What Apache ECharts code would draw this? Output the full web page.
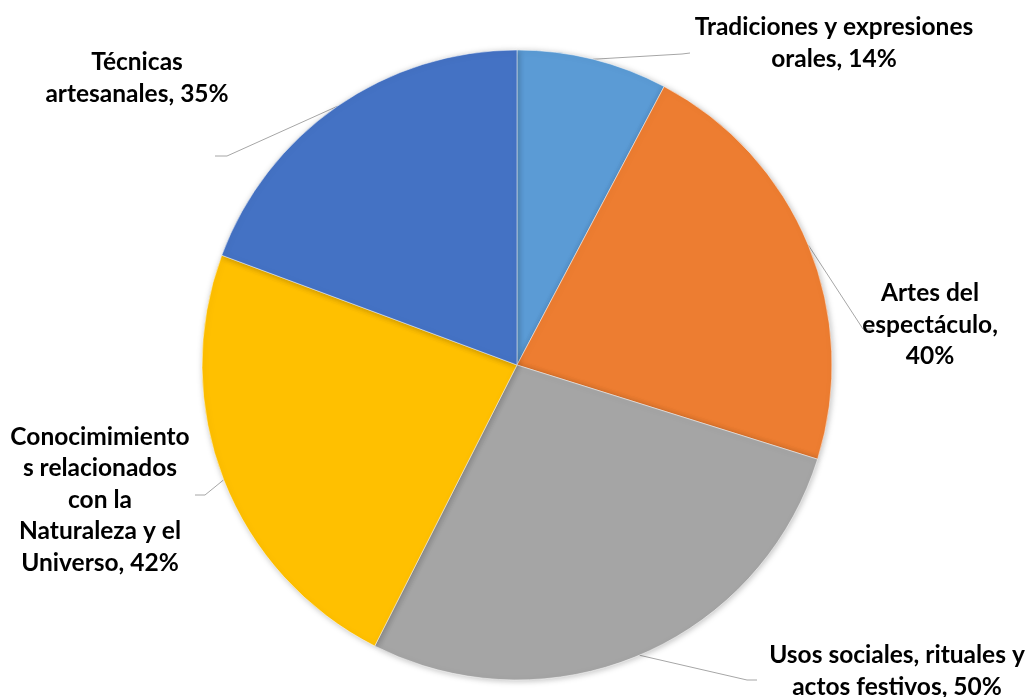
<!DOCTYPE html>
<html>
<head>
<meta charset="utf-8">
<script src="https://cdn.jsdelivr.net/npm/echarts@6/dist/echarts.min.js"></script>
<style>html,body{margin:0;padding:0;background:#fff}#c{width:1033px;height:697px}</style>
</head>
<body>
<div id="c"></div>
<script>
const categories = [
  "Tradiciones y expresiones orales",
  "Artes del espectáculo",
  "Usos sociales, rituales y actos festivos",
  "Conocimimientos relacionados con la Naturaleza y el Universo",
  "Técnicas artesanales"
];
const labelLines = [
  "Tradiciones y expresiones\norales, {v}%",
  "Artes del\nespectáculo,\n{v}%",
  "Usos sociales, rituales y\nactos festivos, {v}%",
  "Conocimimiento\ns relacionados\ncon la\nNaturaleza y el\nUniverso, {v}%",
  "Técnicas\nartesanales, {v}%"
];
const values = [14, 40, 50, 42, 35];
const colors = ["#5B9BD5", "#ED7D31", "#A5A5A5", "#FFC000", "#4472C4"];

// label anchor (center of text block) and leader line end points
const labelPos = [
  {x: 834, y: 43, line: [[682, 54], [690, 53]]},
  {x: 930, y: 325, line: [[863, 329], [873, 329]]},
  {x: 897, y: 671, line: [[747, 680], [757, 680]]},
  {x: 100, y: 500, line: [[205, 495], [195, 495]]},
  {x: 137, y: 78, line: [[227, 156], [215, 156]]}
];

const chart = echarts.init(document.getElementById('c'), null, {renderer: 'canvas'});
const cx = 517, cy = 365, R = 315;
const total = values.reduce((a, b) => a + b, 0);

chart.setOption({
  animation: false,
  color: colors,
  series: [{
    type: 'pie',
    center: [cx, cy],
    radius: [0, R],
    startAngle: 90,
    clockwise: true,
    avoidLabelOverlap: false,
    data: categories.map((n, i) => ({name: n, value: values[i]})),
    itemStyle: {
      borderColor: '#ffffff', borderWidth: 0.5,
      shadowBlur: 6, shadowColor: 'rgba(0,0,0,0.25)', shadowOffsetX: 1, shadowOffsetY: 1
    },
    label: {
      show: true,
      position: 'outside',
      bleedMargin: 0,
      edgeDistance: 0,
      overflow: 'none',
      formatter: p => labelLines[p.dataIndex].replace('{v}', values[p.dataIndex]),
      fontFamily: 'Lato',
      fontWeight: 'bold',
      fontSize: 24.5,
      lineHeight: 31.5,
      color: '#000',
      align: 'center'
    },
    labelLine: {
      show: true,
      lineStyle: {color: '#A6A6A6', width: 1}
    },
    labelLayout: function (params) {
      const i = params.dataIndex;
      const p = labelPos[i];
      let acc = 0;
      for (let k = 0; k < i; k++) acc += values[k];
      const mid = (acc + values[i] / 2) / total * 2 * Math.PI;
      const sx = cx + R * Math.sin(mid), sy = cy - R * Math.cos(mid);
      return {
        x: p.x, y: p.y, align: 'center', verticalAlign: 'middle',
        labelLinePoints: [[sx, sy], p.line[0], p.line[1]]
      };
    }
  }]
});
</script>
</body>
</html>
